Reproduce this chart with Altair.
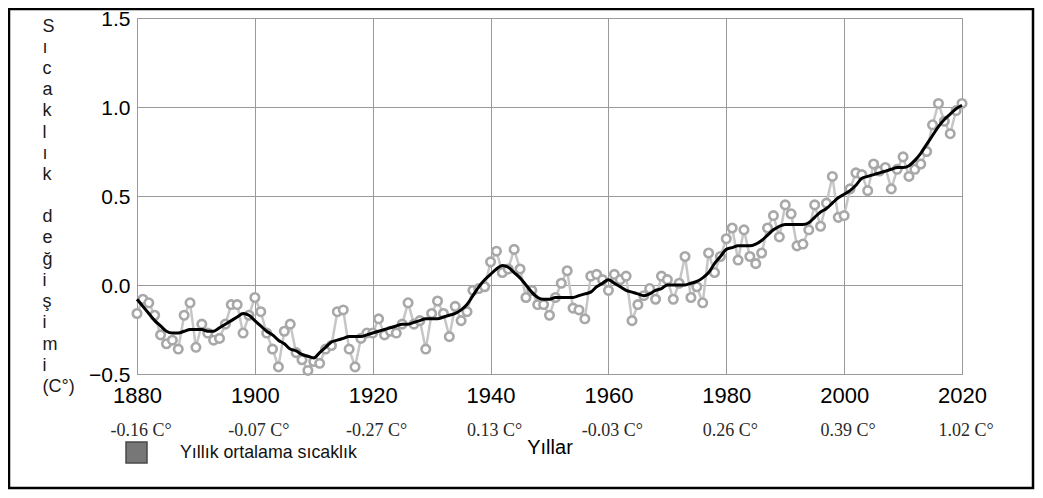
import altair as alt
import pandas as pd

# ---- data ----
years = list(range(1880, 2021))
annual = [
    -0.16, -0.08, -0.10, -0.17, -0.28, -0.33, -0.31, -0.36, -0.17, -0.10,
    -0.35, -0.22, -0.27, -0.31, -0.30, -0.22, -0.11, -0.11, -0.27, -0.17,
    -0.07, -0.15, -0.27, -0.36, -0.46, -0.26, -0.22, -0.38, -0.42, -0.48,
    -0.43, -0.44, -0.36, -0.34, -0.15, -0.14, -0.36, -0.46, -0.30, -0.27,
    -0.27, -0.19, -0.28, -0.26, -0.27, -0.22, -0.10, -0.22, -0.20, -0.36,
    -0.16, -0.09, -0.16, -0.29, -0.12, -0.20, -0.15, -0.03, -0.02, -0.01,
    0.13, 0.19, 0.07, 0.09, 0.20, 0.09, -0.07, -0.03, -0.11, -0.11,
    -0.17, -0.07, 0.01, 0.08, -0.13, -0.14, -0.19, 0.05, 0.06, 0.03,
    -0.03, 0.06, 0.03, 0.05, -0.20, -0.11, -0.06, -0.02, -0.08, 0.05,
    0.03, -0.08, 0.01, 0.16, -0.07, -0.01, -0.10, 0.18, 0.07, 0.16,
    0.26, 0.32, 0.14, 0.31, 0.16, 0.12, 0.18, 0.32, 0.39, 0.27,
    0.45, 0.40, 0.22, 0.23, 0.31, 0.45, 0.33, 0.46, 0.61, 0.38,
    0.39, 0.54, 0.63, 0.62, 0.53, 0.68, 0.64, 0.66, 0.54, 0.65,
    0.72, 0.61, 0.65, 0.68, 0.75, 0.90, 1.02, 0.92, 0.85, 0.98,
    1.02,
]
smooth = [
    -0.08, -0.12, -0.16, -0.20, -0.23, -0.26, -0.27, -0.27, -0.26, -0.25,
    -0.25, -0.25, -0.26, -0.26, -0.24, -0.22, -0.20, -0.18, -0.16, -0.17,
    -0.20, -0.23, -0.26, -0.28, -0.31, -0.33, -0.36, -0.37, -0.39, -0.40,
    -0.41, -0.38, -0.35, -0.32, -0.31, -0.30, -0.29, -0.29, -0.29, -0.28,
    -0.27, -0.26, -0.25, -0.24, -0.23, -0.22, -0.22, -0.21, -0.20, -0.19,
    -0.19, -0.19, -0.18, -0.17, -0.16, -0.14, -0.11, -0.06, -0.01, 0.03,
    0.06, 0.09, 0.11, 0.10, 0.07, 0.04, 0.00, -0.04, -0.07, -0.08,
    -0.08, -0.07, -0.07, -0.07, -0.07, -0.06, -0.05, -0.04, -0.01, 0.01,
    0.03, 0.01, -0.01, -0.03, -0.04, -0.05, -0.06, -0.05, -0.03, -0.02,
    0.00, 0.00, 0.00, 0.00, 0.01, 0.02, 0.04, 0.07, 0.12, 0.16,
    0.20, 0.21, 0.22, 0.22, 0.22, 0.23, 0.25, 0.28, 0.31, 0.33,
    0.34, 0.34, 0.34, 0.34, 0.35, 0.38, 0.41, 0.43, 0.46, 0.49,
    0.51, 0.53, 0.56, 0.60, 0.61, 0.62, 0.63, 0.64, 0.65, 0.66,
    0.66, 0.67, 0.70, 0.74, 0.79, 0.84, 0.89, 0.93, 0.96, 0.99,
    1.01,
]
decade_years = [1880, 1900, 1920, 1940, 1960, 1980, 2000, 2020]
decade_labels = ["-0.16 C°", "-0.07 C°", "-0.27 C°", "0.13 C°",
                 "-0.03 C°", "0.26 C°", "0.39 C°", "1.02 C°"]
x_ticks = [1880, 1900, 1920, 1940, 1960, 1980, 2000, 2020]
y_ticks = [-0.5, 0.0, 0.5, 1.0, 1.5]
y_title = ["S", "ı", "c", "a", "k", "l", "ı", "k", "\u2800",
           "d", "e", "ğ", "i", "ş", "i", "m", "i", "(C°)"]
x_title = "Yıllar"
legend_label = "Yıllık ortalama sıcaklık"

df = pd.DataFrame({"year": years, "annual": annual, "smooth": smooth})
df_dec = pd.DataFrame({"year": decade_years, "label": decade_labels})
df_leg = pd.DataFrame({"series": [legend_label]})
df_one = pd.DataFrame({"k": [0]})

SANS = "Liberation Sans"
GRID = "#9a9a9a"

x_scale = alt.Scale(domain=[1880, 2020], nice=False, zero=False)
y_scale = alt.Scale(domain=[-0.5, 1.5], nice=False, zero=False)

x_axis = alt.Axis(values=x_ticks, format="d", labelFont=SANS, labelFontSize=22,
                  labelColor="#000", labelPadding=11, labelFlush=False,
                  labelOverlap=False, ticks=False, domain=False, grid=True,
                  gridColor=GRID, gridWidth=1, title=x_title, titleFont=SANS,
                  titleFontSize=20, titleFontWeight="normal", titleColor="#000",
                  titleY=73, titleBaseline="middle")
y_axis = alt.Axis(values=y_ticks, format=".1f", labelFont=SANS, labelFontSize=21,
                  labelColor="#000", labelPadding=7, labelOffset=1, ticks=False,
                  domain=False, grid=True, gridColor=GRID, gridWidth=1, title=y_title,
                  titleFont=SANS, titleFontSize=18, titleFontWeight="normal",
                  titleColor="#1a1a1a", titleAngle=0, titleAlign="left",
                  titleBaseline="top", titleX=-95, titleY=-1, titleLineHeight=21.2)

X = alt.X("year:Q", scale=x_scale, axis=x_axis)

frame = alt.Chart(df_one).mark_rect(fillOpacity=0, stroke="#000", strokeWidth=2.5).encode(
    x=alt.value(-128), x2=alt.value(896), y=alt.value(-9), y2=alt.value(470))

annual_line = alt.Chart(df).mark_line(color="#c6c6c6", strokeWidth=2.5).encode(
    x=X, y=alt.Y("annual:Q", scale=y_scale, axis=y_axis))

annual_pts = alt.Chart(df).mark_circle(fill="white", stroke="#a8a8a8", strokeWidth=2.6,
                                       size=72, opacity=1).encode(
    x=X, y=alt.Y("annual:Q", scale=y_scale, axis=y_axis))

smooth_line = alt.Chart(df).mark_line(color="#000", strokeWidth=3,
                                      interpolate="monotone").encode(
    x=X, y=alt.Y("smooth:Q", scale=y_scale, axis=y_axis))

dec_text = alt.Chart(df_dec).mark_text(font="Liberation Serif", fontSize=18,
                                       color="#2a2a2a", baseline="middle",
                                       align="center", dx=4).encode(
    x=X, y=alt.value(413), text="label:N")

legend_layer = alt.Chart(df_leg).mark_square(opacity=0, size=10).encode(
    color=alt.Color("series:N", scale=alt.Scale(range=["#777777"]),
                    legend=alt.Legend(title=None, orient="none", legendX=-12,
                                      legendY=423, symbolType="square",
                                      symbolSize=441, symbolStrokeColor="#4a4a4a",
                                      symbolStrokeWidth=1.5, symbolOpacity=1,
                                      labelFont=SANS, labelFontSize=17.8,
                                      labelColor="#111", labelOffset=32,
                                      labelLimit=0, padding=0)))

chart = alt.layer(frame, annual_line, annual_pts, smooth_line, dec_text, legend_layer).properties(
    width=825, height=356,
    padding={"left": 129, "top": 10, "right": 73, "bottom": 116},
    autosize=alt.AutoSizeParams(type="none"),
    background="white",
).configure_view(stroke=GRID, strokeWidth=1)

chart.save("out.html", embed_options={"renderer": "svg", "actions": False})
